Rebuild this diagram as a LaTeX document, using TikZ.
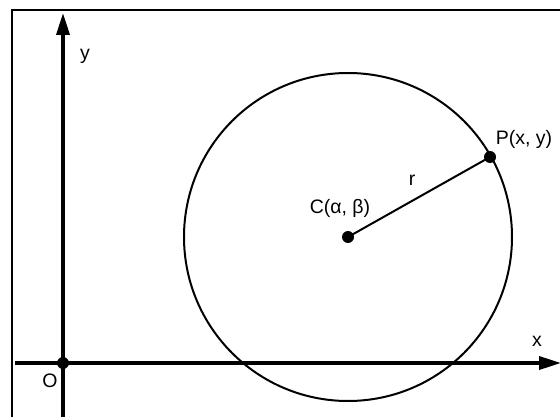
\documentclass[tikz,border=0pt]{standalone}
\usepackage{fontspec}
\setmainfont{Liberation Sans}
\usetikzlibrary{arrows.meta, positioning}

\begin{document}
\begin{tikzpicture}[
    x=1pt, y=-1pt,
    font=\fontsize{19.5}{23}\selectfont,
    % Axis with arrow head
    axis/.style={
        draw=black,
        line width=3.6pt,
        -{Triangle[length=22pt, width=13pt]}
    },
    % Filled point
    dot/.style={
        circle,
        fill=black,
        inner sep=0pt,
        minimum size=12pt
    },
    % Plain text label
    lbl/.style={
        inner sep=0pt,
        text=black
    }
]
    \useasboundingbox (0,0) rectangle (560,417);

    % Frame
    \draw[line width=1.3pt] (560,10) -- (12,10) -- (12,417);

    % Points
    \node (origin) [dot] at (63,363) {};
    \node (centre) [dot] at (348,237) {};
    \node (point) [dot] at (490,157) {};

    % Axis ends
    \coordinate (xstart) at (15,363);
    \coordinate (xend) at (561,363);
    \coordinate (ystart) at (63,417);
    \coordinate (yend) at (63,13);

    % Axes
    \draw[axis] (xstart) -- (xend);
    \draw[axis] (ystart) -- (yend);

    % Circle and radius
    \draw[line width=2pt] (centre.center) circle[radius=164];
    \draw[line width=2pt] (centre.center) -- (point.center);

    % Labels
    \node (ylabel) [lbl] at (85,56) {y};
    \node (xlabel) [lbl] at (537,341) {x};
    \node (olabel) [lbl] at (50,381) {O};
    \node (rlabel) [lbl] at (412,180) {r};
    \node (clabel) [lbl] at (340,208) {C(α, β)};
    \node (plabel) [lbl] at (524,139) {P(x, y)};

\end{tikzpicture}
\end{document}
